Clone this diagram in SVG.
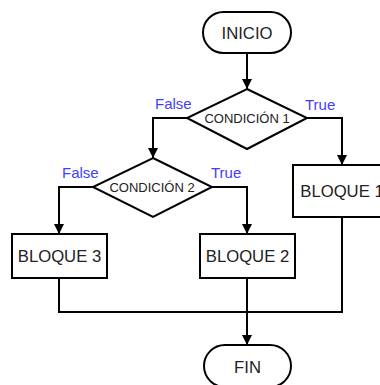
<svg xmlns="http://www.w3.org/2000/svg" width="380" height="385" viewBox="0 0 380 385">
  <style>
    .shape { fill: #ffffff; stroke: #000000; stroke-width: 2; }
    .edge { fill: none; stroke: #000000; stroke-width: 2; }
    .txt { font-family: "Liberation Sans", Arial, sans-serif; font-size: 16.7px; fill: #222222; text-anchor: middle; }
    .cond { font-family: "Liberation Sans", Arial, sans-serif; font-size: 13px; fill: #222222; text-anchor: middle; }
    .lbl { font-family: "Liberation Sans", Arial, sans-serif; font-size: 15px; fill: #3f3fff; }
  </style>
  <defs>
    <marker id="arrow" viewBox="0 0 10 10" refX="10" refY="5" markerWidth="5" markerHeight="5" orient="auto" markerUnits="strokeWidth">
      <path d="M0,0 L10,5 L0,10 Z" fill="#000000"/>
    </marker>
  </defs>

  <!-- connectors -->
  <g id="connectors">
    <path class="edge" d="M247,53 V89" marker-end="url(#arrow)"/>
    <path class="edge" d="M187,118 H153 V158" marker-end="url(#arrow)"/>
    <path class="edge" d="M307,118 H342 V165" marker-end="url(#arrow)"/>
    <path class="edge" d="M93,187 H59 V234" marker-end="url(#arrow)"/>
    <path class="edge" d="M212,187 H247 V234" marker-end="url(#arrow)"/>
    <path class="edge" d="M59,278 V312 H342 V217"/>
    <path class="edge" d="M247,278 V345" marker-end="url(#arrow)"/>
    <text class="lbl" x="155" y="109">False</text>
    <text class="lbl" x="305" y="110">True</text>
    <text class="lbl" x="62" y="178">False</text>
    <text class="lbl" x="211" y="178">True</text>
  </g>

  <g id="inicio">
    <rect class="shape" x="203" y="12" width="88" height="41" rx="20.5"/>
    <text class="txt" x="247" y="39">INICIO</text>
  </g>

  <g id="condicion1">
    <polygon class="shape" points="247,89 307,118 247,149 187,118"/>
    <text class="cond" x="247" y="123">CONDICIÓN 1</text>
  </g>

  <g id="condicion2">
    <polygon class="shape" points="153,158 212,187 153,217 93,187"/>
    <text class="cond" x="152" y="192">CONDICIÓN 2</text>
  </g>

  <g id="bloque1">
    <rect class="shape" x="293" y="165" width="98" height="52"/>
    <text class="txt" x="342" y="197">BLOQUE 1</text>
  </g>

  <g id="bloque3">
    <rect class="shape" x="12" y="234" width="95" height="44"/>
    <text class="txt" x="59.5" y="262">BLOQUE 3</text>
  </g>

  <g id="bloque2">
    <rect class="shape" x="200" y="234" width="95" height="44"/>
    <text class="txt" x="247.5" y="262">BLOQUE 2</text>
  </g>

  <g id="fin">
    <rect class="shape" x="204" y="345" width="87" height="42" rx="21"/>
    <text class="txt" x="247.5" y="373">FIN</text>
  </g>
</svg>
